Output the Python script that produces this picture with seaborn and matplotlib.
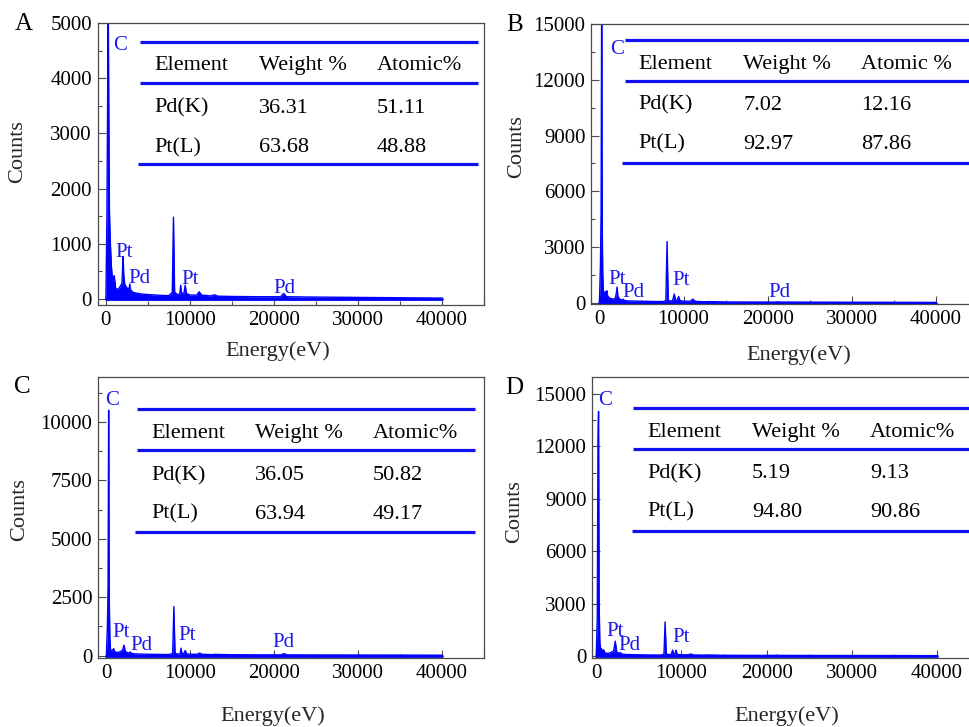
import matplotlib
matplotlib.use("Agg")
import matplotlib.pyplot as plt
from matplotlib.ticker import MultipleLocator
import pandas as pd
import seaborn as sns

# EDS spectra (energy in eV, counts)
energy_a = [0, 120, 200, 270, 340, 420, 520, 650, 800, 900, 1000, 1150, 1350, 1600, 1900, 1980, 2050, 2120,
            2250, 2500, 2750, 2840, 2930, 3200, 3800, 4500, 5500, 6500, 7500, 7900, 8040, 8180, 8500, 8800,
            8900, 9000, 9300, 9440, 9580, 10000, 10800, 11100, 11400, 12500, 12900, 13300, 15000, 18000,
            20800, 21150, 21500, 24000, 28000, 32000, 36000, 40000]
counts_a = [0, 1500, 3500, 5800, 3600, 1600, 1050, 600, 320, 380, 420, 200, 170, 200, 280, 500, 770, 450,
            260, 200, 180, 270, 170, 120, 100, 85, 75, 65, 60, 120, 1480, 120, 80, 90,
            250, 100, 110, 250, 100, 70, 70, 130, 70, 55, 75, 50, 45, 40,
            40, 100, 40, 35, 30, 25, 20, 15]

energy_b = [0, 120, 200, 270, 340, 400, 460, 520, 600, 700, 800, 880, 960, 1100, 1300, 1600, 1900, 2000,
            2100, 2200, 2400, 2700, 2840, 2950, 3300, 4000, 5000, 6000, 7000, 7700, 7900, 8040, 8180, 8400,
            8700, 8900, 9050, 9250, 9420, 9580, 10000, 10800, 11100, 11400, 12500, 13000, 15000, 18000,
            21000, 21200, 21400, 25000, 30000, 35000, 40000]
counts_b = [0, 2000, 4900, 17000, 4000, 1500, 700, 550, 500, 600, 480, 650, 400, 300, 250, 200, 250, 500,
            850, 350, 200, 150, 200, 130, 110, 100, 90, 80, 70, 80, 150, 3300, 150, 100,
            120, 480, 120, 150, 340, 120, 90, 90, 200, 80, 60, 70, 50, 45,
            45, 60, 45, 40, 35, 30, 25]

energy_c = [0, 120, 200, 270, 340, 420, 480, 560, 700, 870, 1000, 1200, 1500, 1800, 1950, 2100, 2250, 2500,
            2750, 2840, 2950, 3300, 4000, 5000, 6000, 7000, 7600, 7900, 8040, 8180, 8500, 8800, 8890, 9000,
            9250, 9400, 9550, 10000, 10800, 11100, 11400, 12500, 13000, 15000, 18000, 20800, 21150, 21500,
            25000, 30000, 35000, 40000]
counts_c = [0, 1250, 3000, 10500, 2500, 700, 320, 200, 220, 300, 160, 140, 150, 200, 260, 450, 180, 130,
            110, 160, 100, 80, 70, 60, 55, 50, 55, 100, 2100, 100, 70, 80, 320, 90,
            100, 220, 80, 60, 60, 110, 60, 45, 55, 40, 35, 35, 90, 35,
            30, 28, 25, 20]

energy_d = [0, 120, 200, 270, 340, 420, 500, 590, 700, 860, 1000, 1200, 1500, 1800, 2050, 2230, 2400, 2600,
            2750, 2840, 2950, 3300, 4000, 5000, 6000, 7000, 7700, 7950, 8080, 8220, 8500, 8800, 8960, 9100,
            9250, 9350, 9500, 10000, 10800, 11100, 11400, 12500, 13000, 15000, 18000, 21000, 21200, 21400,
            25000, 30000, 35000, 40000]
counts_d = [0, 2250, 12300, 14000, 3000, 800, 350, 440, 300, 350, 200, 150, 160, 220, 300, 850, 250, 170,
            150, 200, 120, 90, 80, 70, 60, 55, 60, 120, 1950, 120, 80, 90, 340, 100,
            120, 340, 90, 70, 70, 115, 60, 50, 60, 40, 35, 35, 50, 35,
            30, 28, 25, 20]

# composition tables
elements = ["Pd(K)", "Pt(L)"]
weight_a = ["36.31", "63.68"]
atomic_a = ["51.11", "48.88"]
weight_b = ["7.02", "92.97"]
atomic_b = ["12.16", "87.86"]
weight_c = ["36.05", "63.94"]
atomic_c = ["50.82", "49.17"]
weight_d = ["5.19", "94.80"]
atomic_d = ["9.13", "90.86"]

W, H = 969, 727
BLUE = "#0000ff"
LINE_BLUE = "#1010f0"

sns.set_theme(style="ticks")
plt.rcParams["font.family"] = ["Liberation Serif", "DejaVu Serif"]
plt.rcParams["axes.edgecolor"] = "#4a4a4a"

fig = plt.figure(figsize=(W / 100, H / 100), dpi=100)


def fx(x):
    return x / W


def fy(y):
    return 1 - y / H


panels = [
    dict(letter="A", e=energy_a, c=counts_a, w=weight_a, at=atomic_a, head="Atomic%",
         box=(97.5, 23, 484, 305), xlim=(-1000, 45000), ylim=(-110, 5000), ystep=1000,
         lines=[(0.933, 0.110, 0.984), (0.787, 0.110, 0.984), (0.500, 0.105, 0.984)],
         rows=[0.833, 0.681, 0.542], cols=[0.146, 0.418, 0.723],
         marks=[("C", 830, 4511), ("Pt", 1070, 761), ("Pd", 2620, 290), ("Pt", 8930, 272), ("Pd", 19880, 109)],
         let=(24, 30), cnt=(18, 152), eng=(278, 351)),
    dict(letter="B", e=energy_b, c=counts_b, w=weight_b, at=atomic_b, head="Atomic %",
         box=(591, 24, 978, 304), xlim=(-1000, 45000), ylim=(-60, 15000), ystep=3000,
         lines=[(0.943, 0.088, 1.0), (0.796, 0.088, 1.0), (0.504, 0.080, 1.0)],
         rows=[0.839, 0.693, 0.554], cols=[0.1215, 0.393, 0.698],
         marks=[("C", 1270, 13387), ("Pt", 1035, 1021), ("Pd", 2700, 323), ("Pt", 8640, 968), ("Pd", 20060, 323)],
         let=(515, 31), cnt=(517, 147), eng=(799, 355)),
    dict(letter="C", e=energy_c, c=counts_c, w=weight_c, at=atomic_c, head="Atomic%",
         box=(98, 377, 484, 658), xlim=(-1000, 45000), ylim=(-100, 11920), ystep=2500,
         lines=[(0.886, 0.101, 0.977), (0.740, 0.101, 0.977), (0.448, 0.096, 0.977)],
         rows=[0.783, 0.633, 0.495], cols=[0.137, 0.407, 0.712],
         marks=[("C", -120, 10727), ("Pt", 714, 800), ("Pd", 2857, 244), ("Pt", 8571, 672), ("Pd", 19760, 372)],
         let=(22, 393), cnt=(20, 510), eng=(273, 716)),
    dict(letter="D", e=energy_d, c=counts_d, w=weight_d, at=atomic_d, head="Atomic%",
         box=(592, 377, 979.6, 658), xlim=(-500, 45000), ylim=(-115, 15970), ystep=3000,
         lines=[(0.890, 0.106, 1.0), (0.744, 0.106, 1.0), (0.452, 0.103, 1.0)],
         rows=[0.786, 0.640, 0.502], cols=[0.142, 0.413, 0.717],
         marks=[("C", 235, 14370), ("Pt", 1174, 1145), ("Pd", 2582, 344), ("Pt", 8920, 802)],
         let=(514, 394), cnt=(515, 512), eng=(787, 716)),
]

for p in panels:
    l, t, r, b = p["box"]
    ax = fig.add_axes([fx(l), fy(b), (r - l) / W, (b - t) / H])
    df = pd.DataFrame({"Energy": p["e"], "Counts": p["c"]})
    sns.lineplot(data=df, x="Energy", y="Counts", ax=ax, color=BLUE, lw=1.0,
                 estimator=None, sort=False)
    ax.fill_between(df["Energy"], 0, df["Counts"], color=BLUE, lw=0)
    ax.plot([0, 40000], [0, 0], color=BLUE, lw=2.0)

    ax.set_xlim(*p["xlim"])
    ax.set_ylim(*p["ylim"])
    ax.set_xticks(range(0, 40001, 10000))
    ax.set_yticks(range(0, int(p["ylim"][1]) + 1, p["ystep"]))
    ax.xaxis.set_minor_locator(MultipleLocator(5000))
    ax.yaxis.set_minor_locator(MultipleLocator(p["ystep"] / 2))
    ax.tick_params(which="both", direction="in", width=0.8, colors="#4a4a4a",
                   labelcolor="black", labelsize=15, pad=4)
    ax.tick_params(which="major", length=6)
    ax.tick_params(which="minor", length=3)
    for s in ax.spines.values():
        s.set_linewidth(0.9)
    ax.set_xlabel("")
    ax.set_ylabel("")

    # inset table
    for (yy, x0, x1) in p["lines"]:
        ax.plot([x0, x1], [yy, yy], transform=ax.transAxes, color=LINE_BLUE, lw=2.3,
                solid_capstyle="butt", clip_on=False)
    header = ["Element", "Weight %", p["head"]]
    body = [header] + [[elements[i], p["w"][i], p["at"][i]] for i in range(2)]
    for ri, row in enumerate(body):
        for ci, txt in enumerate(row):
            ax.text(p["cols"][ci], p["rows"][ri], txt, transform=ax.transAxes,
                    ha="left", va="baseline", fontsize=16, color="black")

    for name, xv, yv in p["marks"]:
        ax.text(xv, yv, name, ha="left", va="baseline", fontsize=15, color="#1a1aee")

    fig.text(fx(p["let"][0]), fy(p["let"][1]), p["letter"], ha="center", va="baseline",
             fontsize=18, color="black")
    fig.text(fx(p["cnt"][0]), fy(p["cnt"][1]), "Counts", rotation=90, ha="center",
             va="center", fontsize=16)
    fig.text(fx(p["eng"][0]), fy(p["eng"][1]), "Energy(eV)", ha="center", va="center",
             fontsize=16)

fig.savefig("out.png", dpi=100)
